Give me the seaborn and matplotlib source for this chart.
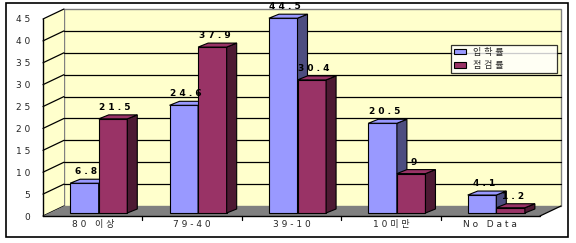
import matplotlib
matplotlib.use("Agg")
import matplotlib.pyplot as plt
from matplotlib.patches import Polygon, Rectangle, Patch
import seaborn as sns
import pandas as pd

# ---- data ----
categories = ["80 이상", "79-40", "39-10", "10미만", "No Data"]
series_names = ["입 학 률", "점 검 률"]
s1 = [6.8, 24.6, 44.5, 20.5, 4.1]
s2 = [21.5, 37.9, 30.4, 9, 1.2]
yticks = [0, 5, 10, 15, 20, 25, 30, 35, 40, 45]

def spaced(s):
    return " ".join(s)

sns.set_style("white")
plt.rcParams['font.family'] = ['DejaVu Sans', 'Noto Sans CJK KR']

W, H = 576, 243
fig = plt.figure(figsize=(W / 100, H / 100), dpi=100)
fig.patch.set_facecolor("white")

# front plane of the 3D box
x0p, x1p, y0p, y1p = 43, 540, 216, 19
ax = fig.add_axes([x0p / W, (H - y0p) / H, (x1p - x0p) / W, (y0p - y1p) / H])
ax.set_facecolor("none")

df = pd.DataFrame({
    "cat": categories * 2,
    "val": s1 + s2,
    "ser": [series_names[0]] * len(categories) + [series_names[1]] * len(categories),
})
colors = ["#9999FF", "#993366"]
side_colors = ["#4D4D80", "#4D1A33"]

sns.barplot(data=df, x="cat", y="val", hue="ser", hue_order=series_names,
            order=categories, palette=colors, width=0.575, dodge=True,
            edgecolor="black", linewidth=0.8, saturation=1, ax=ax, legend=False)

ax.set_xlim(-0.5, len(categories) - 0.5)
ax.set_ylim(0, 45)
for sp in ax.spines.values():
    sp.set_visible(False)

# pixel -> data conversion
p0 = ax.transData.transform((0, 0))
p1 = ax.transData.transform((1, 1))
ppx, ppy = p1[0] - p0[0], p1[1] - p0[1]
def dx(px): return px / ppx
def dy(px): return px / ppy

bdx, bdy = dx(21), dy(10)     # back wall offset
xl, xr = -0.5, len(categories) - 0.5
ytop = yticks[-1]

# back wall
ax.add_patch(Polygon([(xl + bdx, bdy), (xr + bdx, bdy), (xr + bdx, ytop + bdy),
                      (xl + bdx, ytop + bdy)],
                     closed=True, facecolor="#FFFFCC", edgecolor="#808080",
                     lw=1, zorder=0.3, clip_on=False))
# left wall
ax.add_patch(Polygon([(xl, 0), (xl + bdx, bdy), (xl + bdx, ytop + bdy), (xl, ytop)],
                     closed=True, facecolor="#FFFFCC", edgecolor="none",
                     zorder=0.3, clip_on=False))
# gridlines
for t in yticks:
    yb = t + bdy
    if 0 < t < ytop:
        ax.plot([xl + bdx, xr + bdx], [yb, yb], color="black", lw=0.9, zorder=0.4, clip_on=False)
    ax.plot([xl, xl + bdx], [t, yb], color="black", lw=0.9, zorder=0.4, clip_on=False)

# floor
ax.add_patch(Polygon([(xl, 0), (xr, 0), (xr + bdx, bdy), (xl + bdx, bdy)],
                     closed=True, facecolor="#808080", edgecolor="none",
                     zorder=0.5, clip_on=False))
ax.plot([xr, xr + bdx], [0, bdy], color="black", lw=0.9, zorder=0.6, clip_on=False)
# axes lines
ax.plot([xl, xr], [0, 0], color="black", lw=1, zorder=5, clip_on=False)
ax.plot([xl, xl], [0, ytop], color="black", lw=1, zorder=5, clip_on=False)
for i in range(1, len(categories)):
    ax.plot([i - 0.5, i - 0.5], [0, -dy(4)], color="black", lw=0.9, zorder=5, clip_on=False)

# shift bars into the box and add 3D faces
odx, ody = dx(6), dy(3)
ddx, ddy = dx(10), dy(4)
n = len(categories)
bars = [pp for pp in ax.patches if isinstance(pp, Rectangle) and 0 < pp.get_width() < 0.5]
for k, p in enumerate(bars):
    si = 0 if k < n else 1
    z = 2 + si
    bx, bw, bh = p.get_x() + odx, p.get_width(), p.get_height()
    by = ody
    p.set_xy((bx, by))
    p.set_zorder(z)
    p.set_clip_on(False)
    # side face
    ax.add_patch(Polygon([(bx + bw, by), (bx + bw + ddx, by + ddy), (bx + bw + ddx, by + bh + ddy),
                          (bx + bw, by + bh)], closed=True, facecolor=side_colors[si],
                         edgecolor="black", lw=0.8, zorder=z + 0.1, clip_on=False))
    # top face
    ax.add_patch(Polygon([(bx, by + bh), (bx + ddx, by + bh + ddy), (bx + bw + ddx, by + bh + ddy),
                          (bx + bw, by + bh)], closed=True, facecolor=colors[si],
                         edgecolor="black", lw=0.8, zorder=z + 0.1, clip_on=False))
    vals = s1 if si == 0 else s2
    v = vals[k % n]
    ax.text(bx + bw / 2 + dx(2), by + bh + ddy + dy(3), spaced(f"{v:g}"),
            ha="center", va="bottom", fontsize=6.5, fontweight="bold",
            color="black", zorder=10, clip_on=False)

# ticks
ax.set_yticks(yticks)
ax.set_yticklabels([spaced(str(t)) for t in yticks], fontsize=6.5)
ax.set_xticks(range(n))
ax.set_xticklabels([spaced(c) for c in categories], fontsize=6.5)
ax.tick_params(axis="y", length=0, pad=9)
ax.tick_params(axis="x", length=0, pad=3)
ax.set_xlabel("")
ax.set_ylabel("")

# legend
handles = [Patch(facecolor=colors[i], edgecolor="black", lw=0.8) for i in range(2)]
lx0, lx1, ly0, ly1 = 451, 557, 43, 73
leg = fig.legend(handles, series_names, loc="lower left", mode="expand",
                 bbox_to_anchor=(lx0 / W, (H - ly1) / H, (lx1 - lx0) / W, (ly1 - ly0) / H),
                 frameon=True, fancybox=False,
                 edgecolor="black", fontsize=6.5, handlelength=1.3, handleheight=0.6,
                 borderpad=0.35, labelspacing=0.45, handletextpad=0.8, borderaxespad=0)
leg.get_frame().set_linewidth(0.9)
leg.set_zorder(20)

# outer border
fig.add_artist(Rectangle((6 / W, (H - 237) / H), (568 - 6) / W, (237 - 3) / H,
                         transform=fig.transFigure, facecolor="none",
                         edgecolor="black", lw=1.2, zorder=0))

fig.savefig("out.png", dpi=100, facecolor="white")
